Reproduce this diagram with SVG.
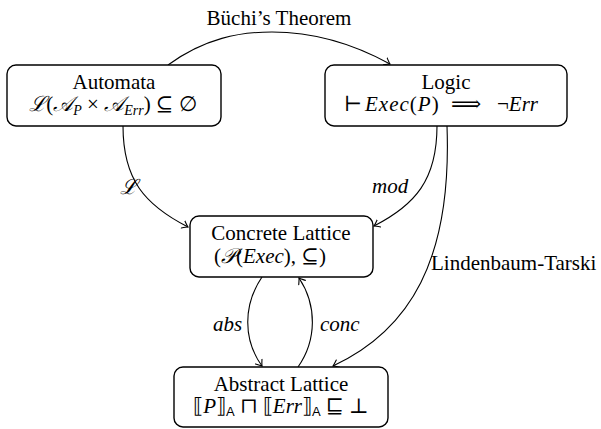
<svg xmlns="http://www.w3.org/2000/svg" width="601" height="429" viewBox="0 0 601 429">
<defs>
<marker id="arr" viewBox="-6 -5 8 10" markerWidth="8" markerHeight="10" refX="0" refY="0" orient="auto" markerUnits="userSpaceOnUse">
<path d="M -5.5 -4 Q -1.5 -0.8 0 0 Q -1.5 0.8 -5.5 4" fill="none" stroke="#000" stroke-width="1.1" stroke-linecap="round"/>
</marker>
</defs>
<style>
.box{fill:#fff;stroke:#000;stroke-width:1.4}
.t{font-family:"Liberation Serif","DejaVu Serif",serif;font-size:21px;fill:#000;text-anchor:middle}
.s{font-family:"Liberation Serif","DejaVu Serif",serif;font-size:21px;fill:#000}
.i{font-style:italic}
.e{fill:none;stroke:#000;stroke-width:1.1;marker-end:url(#arr)}
.lbl{font-family:"Liberation Serif","DejaVu Serif",serif;font-size:21px;fill:#000}
</style>
<g id="connectors">
<path class="e" d="M 168 65 C 205 38 240 32 272 32 C 310 32 350 42 390 64"/>
<path class="e" d="M 123 126 C 123 180 145 205 188 227"/>
<path class="e" d="M 437 126 C 437 180 415 205 374 226"/>
<path class="e" d="M 447 126 C 452 260 410 330 333 366"/>
<path class="e" d="M 262 277 C 243 305 243 340 262 366"/>
<path class="e" d="M 298 367 C 317 340 317 305 299 278"/>
<text class="lbl" x="279" y="25" text-anchor="middle">Büchi’s Theorem</text>
<text class="lbl" x="431" y="270">Lindenbaum-Tarski</text>
<text class="lbl i" x="120" y="194">ℒ</text>
<text class="lbl i" x="372" y="193">mod</text>
<text class="lbl i" x="213" y="331">abs</text>
<text class="lbl i" x="320" y="331">conc</text>
</g>
<g id="automata">
<rect class="box" x="7" y="65" width="214" height="61" rx="9"/>
<text class="t" x="114" y="89">Automata</text>
<text class="t" x="113" y="111"><tspan class="i">ℒ</tspan>(<tspan class="i">𝒜</tspan><tspan class="i" font-size="14" dy="4">P</tspan><tspan dy="-4"> × </tspan><tspan class="i">𝒜</tspan><tspan class="i" font-size="14" dy="4">Err</tspan><tspan dy="-4">) ⊆ ∅</tspan></text>
</g>
<g id="logic">
<rect class="box" x="325" y="65" width="242" height="61" rx="9"/>
<text class="t" x="446" y="89">Logic</text>
<text class="s" y="111"><tspan x="344">⊢</tspan><tspan class="i" x="365" letter-spacing="1">Exec</tspan><tspan letter-spacing="1">(</tspan><tspan class="i" letter-spacing="1">P</tspan>)<tspan x="451">⟹</tspan><tspan x="497">¬</tspan><tspan class="i">Err</tspan></text>
</g>
<g id="concrete">
<rect class="box" x="190" y="216" width="183" height="61" rx="9"/>
<text class="t" x="281" y="240">Concrete Lattice</text>
<text class="t" x="270" y="263">(<tspan class="i">𝒫</tspan>(<tspan class="i">Exec</tspan>), ⊆)</text>
</g>
<g id="abstract">
<rect class="box" x="174" y="367" width="214" height="60" rx="9"/>
<text class="t" x="281" y="391">Abstract Lattice</text>
<text class="t" x="281" y="413">⟦<tspan class="i">P</tspan>⟧<tspan font-family="Liberation Sans,sans-serif" font-size="13" dy="3">A</tspan><tspan dy="-3"> ⊓ ⟦</tspan><tspan class="i">Err</tspan>⟧<tspan font-family="Liberation Sans,sans-serif" font-size="13" dy="3">A</tspan><tspan dy="-3"> ⊑ ⊥</tspan></text>
</g>
</svg>
